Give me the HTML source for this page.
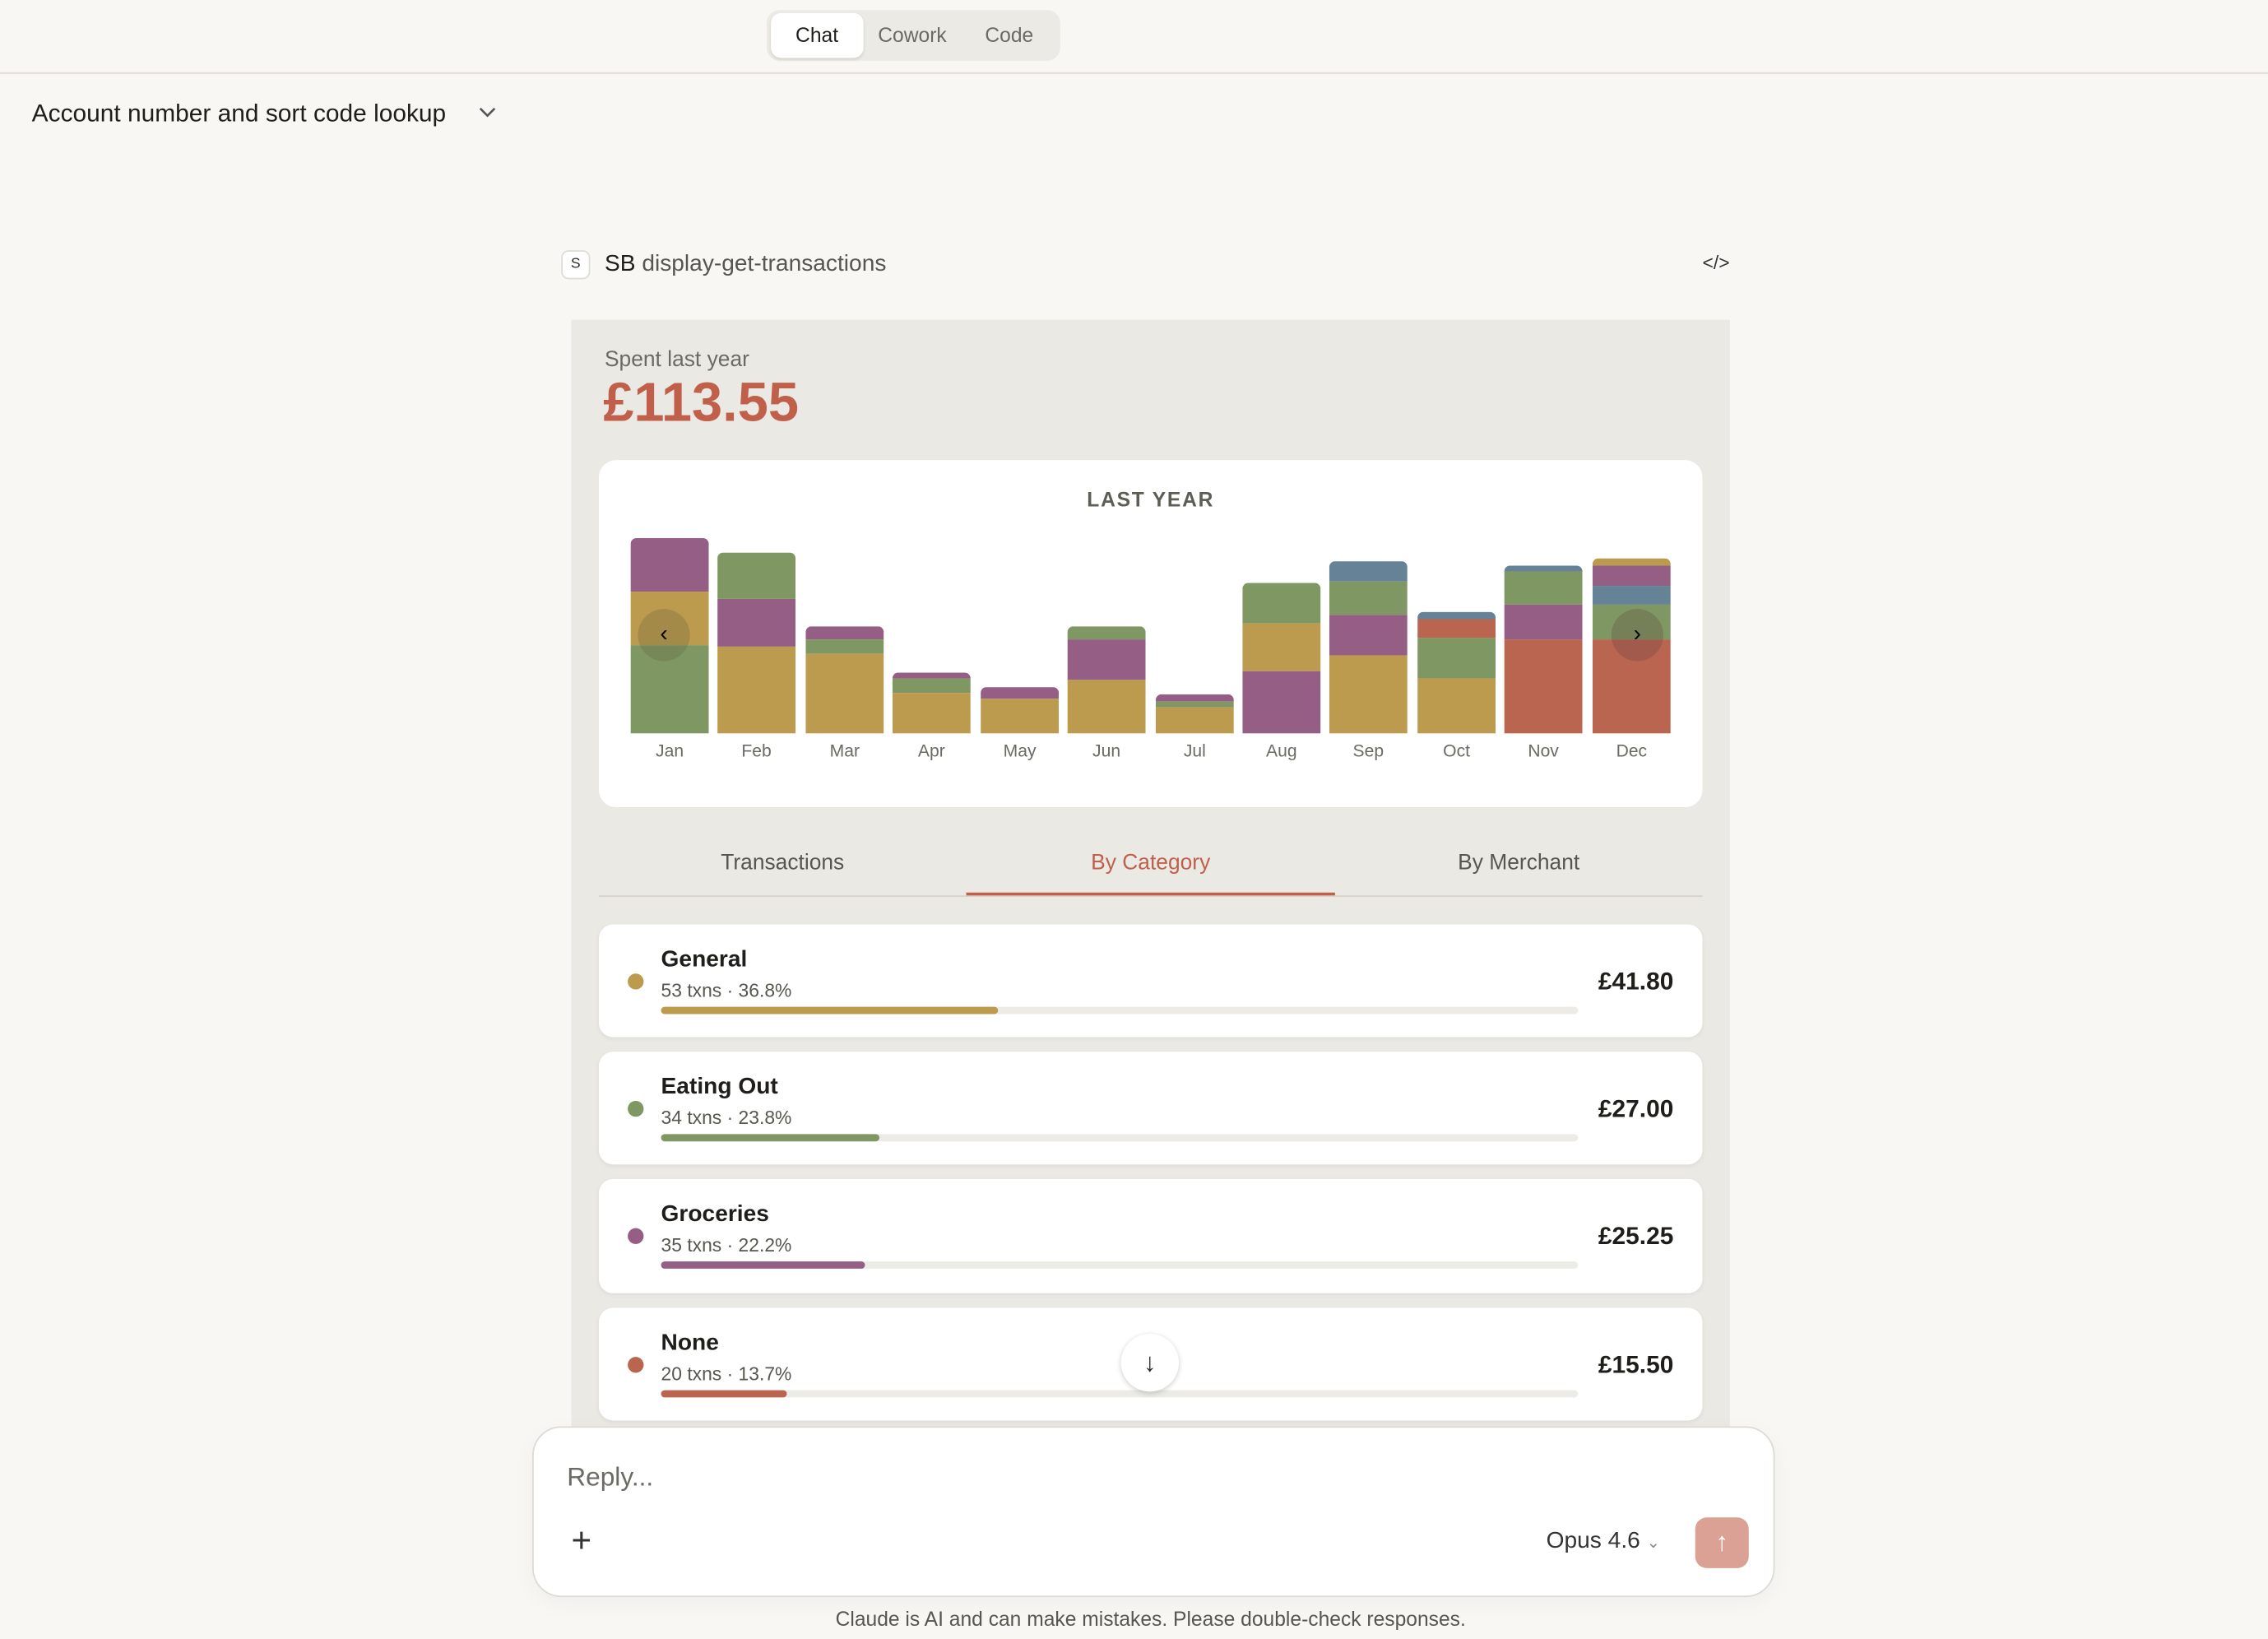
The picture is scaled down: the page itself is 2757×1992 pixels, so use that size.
<!DOCTYPE html>
<html><head><meta charset="utf-8"><style>
html,body{margin:0;padding:0;background:#f8f7f4;overflow:hidden}
#w{position:absolute;left:0;top:0;width:1568px;height:1133px;transform:scale(1.75829,1.75816);transform-origin:0 0;font-family:"Liberation Sans",sans-serif;color:#2d2b27}
.a{position:absolute}
.bar{position:absolute;width:54px;border-radius:4px 4px 0 0;overflow:hidden}
.bar div{width:100%}
.ml{position:absolute;top:512px;width:54px;text-align:center;font-size:12px;color:#6b6a63}
.card{position:absolute;left:414px;width:763px;background:#fff;border-radius:10px;box-shadow:0 1px 3px rgba(0,0,0,.06)}
.dot{position:absolute;left:20px;width:11px;height:11px;border-radius:50%}
.nm{position:absolute;left:43px;top:16px;font-size:16px;font-weight:bold;color:#1f1e1b}
.sub{position:absolute;left:43px;top:38px;font-size:13px;color:#57564f}
.trk{position:absolute;left:43px;top:57px;width:634px;height:5px;background:#ecebe6;border-radius:3px}
.trk div{height:5px;border-radius:3px}
.amt{position:absolute;right:20px;top:30px;font-size:17px;font-weight:bold;color:#1f1e1b}
</style></head><body><div id="w">
<div class="a" style="left:0;top:0;width:1568px;height:50px;border-bottom:1px solid #dedcd5;background:#f8f7f4"></div>
<div class="a" style="left:530px;top:7px;width:203px;height:35px;background:#eceae4;border-radius:9px"></div>
<div class="a" style="left:533px;top:9px;width:64px;height:31px;background:#fff;border-radius:7px;box-shadow:0 1px 2px rgba(0,0,0,.1)"></div>
<div class="a" style="left:550px;top:16px;font-size:14px;color:#1f1e1b">Chat</div>
<div class="a" style="left:607px;top:16px;font-size:14px;color:#6b6a63">Cowork</div>
<div class="a" style="left:681px;top:16px;font-size:14px;color:#6b6a63">Code</div>
<div class="a" style="left:22px;top:69px;font-size:17px;color:#1f1e1b">Account number and sort code lookup</div>
<svg class="a" style="left:330px;top:73px" width="14" height="10"><path d="M2 2l5 5 5-5" fill="none" stroke="#555" stroke-width="1.5"/></svg>
<div class="a" style="left:388px;top:173px;width:18px;height:18px;border:1px solid #dedcd5;border-radius:5px;background:#fff;font-size:10px;text-align:center;line-height:18px">S</div>
<div class="a" style="left:418px;top:174px;font-size:16px;color:#1f1e1b">SB <span style="color:#57564f">display-get-transactions</span></div>
<div class="a" style="left:1177px;top:174px;font-size:13px;color:#333">&lt;/&gt;</div>
<div class="a" style="left:395px;top:221px;width:801px;height:770px;background:#ebe9e4"></div>
<div class="a" style="left:418px;top:240px;font-size:15px;color:#6b6a63">Spent last year</div>
<div class="a" style="left:417px;top:258px;font-size:38px;font-weight:bold;color:#c0604a">£113.55</div>
<div class="a" style="left:414px;top:318px;width:763px;height:240px;background:#fff;border-radius:12px"></div>
<div class="a" style="left:414px;top:337px;width:763px;text-align:center;font-size:14px;font-weight:bold;letter-spacing:1px;color:#5d5c55">LAST YEAR</div>
<div class="bar" style="left:436px;top:372px;height:135px"><div style="height:37px;background:#955f85"></div><div style="height:37px;background:#bc9a4e"></div><div style="height:61px;background:#7f9762"></div></div>
<div class="bar" style="left:496px;top:382px;height:125px"><div style="height:32px;background:#7f9762"></div><div style="height:33px;background:#955f85"></div><div style="height:60px;background:#bc9a4e"></div></div>
<div class="bar" style="left:557px;top:433px;height:74px"><div style="height:9px;background:#955f85"></div><div style="height:10px;background:#7f9762"></div><div style="height:55px;background:#bc9a4e"></div></div>
<div class="bar" style="left:617px;top:465px;height:42px"><div style="height:4px;background:#955f85"></div><div style="height:10px;background:#7f9762"></div><div style="height:28px;background:#bc9a4e"></div></div>
<div class="bar" style="left:678px;top:475px;height:32px"><div style="height:8px;background:#955f85"></div><div style="height:24px;background:#bc9a4e"></div></div>
<div class="bar" style="left:738px;top:433px;height:74px"><div style="height:9px;background:#7f9762"></div><div style="height:28px;background:#955f85"></div><div style="height:37px;background:#bc9a4e"></div></div>
<div class="bar" style="left:799px;top:480px;height:27px"><div style="height:5px;background:#955f85"></div><div style="height:4px;background:#7f9762"></div><div style="height:18px;background:#bc9a4e"></div></div>
<div class="bar" style="left:859px;top:403px;height:104px"><div style="height:28px;background:#7f9762"></div><div style="height:33px;background:#bc9a4e"></div><div style="height:43px;background:#955f85"></div></div>
<div class="bar" style="left:919px;top:388px;height:119px"><div style="height:14px;background:#658297"></div><div style="height:23px;background:#7f9762"></div><div style="height:28px;background:#955f85"></div><div style="height:54px;background:#bc9a4e"></div></div>
<div class="bar" style="left:980px;top:423px;height:84px"><div style="height:5px;background:#658297"></div><div style="height:13px;background:#b96550"></div><div style="height:28px;background:#7f9762"></div><div style="height:38px;background:#bc9a4e"></div></div>
<div class="bar" style="left:1040px;top:391px;height:116px"><div style="height:4px;background:#658297"></div><div style="height:23px;background:#7f9762"></div><div style="height:24px;background:#955f85"></div><div style="height:65px;background:#b96550"></div></div>
<div class="bar" style="left:1101px;top:386px;height:121px"><div style="height:5px;background:#bc9a4e"></div><div style="height:14px;background:#955f85"></div><div style="height:13px;background:#658297"></div><div style="height:24px;background:#7f9762"></div><div style="height:65px;background:#b96550"></div></div>
<div class="a" style="left:441px;top:421px;width:36px;height:36px;border-radius:50%;background:rgba(90,90,60,.25);text-align:center;line-height:36px;font-size:16px;color:#000">‹</div>
<div class="a" style="left:1114px;top:421px;width:36px;height:36px;border-radius:50%;background:rgba(90,60,60,.25);text-align:center;line-height:36px;font-size:16px;color:#000">›</div>
<div class="ml" style="left:436px">Jan</div><div class="ml" style="left:496px">Feb</div><div class="ml" style="left:557px">Mar</div><div class="ml" style="left:617px">Apr</div><div class="ml" style="left:678px">May</div><div class="ml" style="left:738px">Jun</div><div class="ml" style="left:799px">Jul</div><div class="ml" style="left:859px">Aug</div><div class="ml" style="left:919px">Sep</div><div class="ml" style="left:980px">Oct</div><div class="ml" style="left:1040px">Nov</div><div class="ml" style="left:1101px">Dec</div>
<div class="a" style="left:414px;top:619px;width:763px;height:1px;background:#d4d2cb"></div>
<div class="a" style="left:668px;top:617px;width:255px;height:2px;background:#c0604a"></div>
<div class="a" style="left:414px;top:588px;width:254px;text-align:center;font-size:15px;color:#57564f">Transactions</div>
<div class="a" style="left:668px;top:588px;width:255px;text-align:center;font-size:15px;color:#c0604a">By Category</div>
<div class="a" style="left:923px;top:588px;width:254px;text-align:center;font-size:15px;color:#57564f">By Merchant</div>
<div class="card" style="top:639px;height:78px"><div class="dot" style="top:34px;background:#bc9a4e"></div><div class="nm">General</div><div class="sub">53 txns · 36.8%</div><div class="trk"><div style="width:233px;background:#bc9a4e"></div></div><div class="amt">£41.80</div></div>
<div class="card" style="top:727px;height:78px"><div class="dot" style="top:34px;background:#7f9762"></div><div class="nm">Eating Out</div><div class="sub">34 txns · 23.8%</div><div class="trk"><div style="width:151px;background:#7f9762"></div></div><div class="amt">£27.00</div></div>
<div class="card" style="top:815px;height:79px"><div class="dot" style="top:34px;background:#955f85"></div><div class="nm">Groceries</div><div class="sub">35 txns · 22.2%</div><div class="trk"><div style="width:141px;background:#955f85"></div></div><div class="amt">£25.25</div></div>
<div class="card" style="top:904px;height:78px"><div class="dot" style="top:34px;background:#b96550"></div><div class="nm">None</div><div class="sub">20 txns · 13.7%</div><div class="trk"><div style="width:87px;background:#b96550"></div></div><div class="amt">£15.50</div></div>
<div class="a" style="left:775px;top:922px;width:40px;height:40px;border-radius:50%;background:#fff;box-shadow:0 1px 4px rgba(0,0,0,.2);text-align:center;line-height:40px;font-size:18px">↓</div>
<div class="a" style="left:368px;top:986px;width:857px;height:116px;background:#fff;border:1px solid #dcdad3;border-radius:20px;box-shadow:0 4px 16px rgba(0,0,0,.04)"></div>
<div class="a" style="left:392px;top:1011px;font-size:18px;color:#6b6a63">Reply...</div>
<div class="a" style="left:395px;top:1052px;font-size:24px;color:#333;font-weight:300">+</div>
<div class="a" style="left:1069px;top:1057px;font-size:16px;color:#333">Opus 4.6 <span style="font-size:11px;color:#888">⌄</span></div>
<div class="a" style="left:1172px;top:1049px;width:37px;height:35px;background:#dba194;border-radius:8px;color:#fff;text-align:center;line-height:35px;font-size:18px">↑</div>
<div class="a" style="left:0;top:1111px;width:1591px;text-align:center;font-size:14px;color:#57564f">Claude is AI and can make mistakes. Please double-check responses.</div>
</div></body></html>
